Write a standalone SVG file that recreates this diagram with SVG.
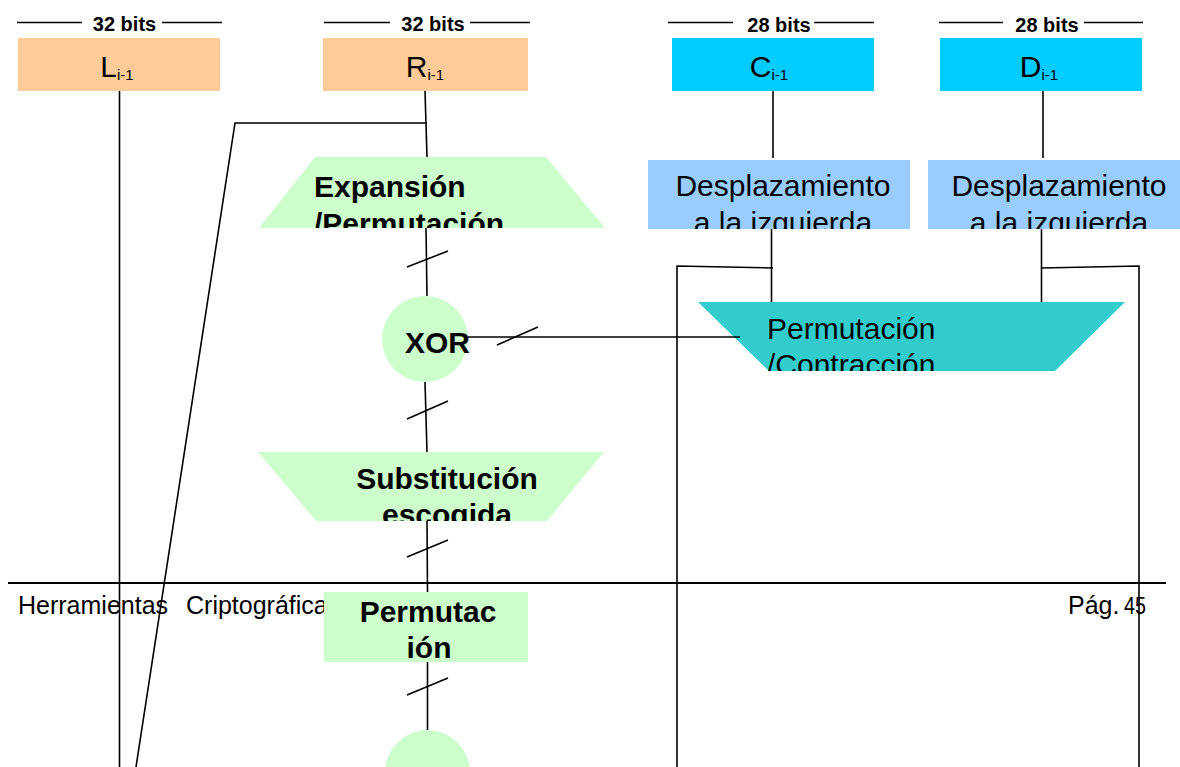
<svg xmlns="http://www.w3.org/2000/svg" width="1180" height="767" viewBox="0 0 1180 767">
  <style>
    .lbl { font-family: "Liberation Sans", Arial, sans-serif; fill: #000; }
    .bits { font-size: 20px; font-weight: bold; text-anchor: middle; }
    .reg { font-size: 30px; }
    .sub { font-size: 15px; }
    .bold { font-size: 30px; font-weight: bold; }
    .ln { stroke: #000; stroke-width: 1.6; fill: none; }
    .rule { stroke: #000; stroke-width: 1.6; }
    .peach { fill: #FFCC99; }
    .cyan { fill: #00CCFF; }
    .sky { fill: #99CCFF; }
    .mint { fill: #CCFFCC; }
    .teal { fill: #33CCCC; }
    .foot { font-family: "Liberation Sans", Arial, sans-serif; font-size: 25px; fill: #000; }
  </style>
  <defs>
    <clipPath id="clipExp"><rect x="250" y="157" width="360" height="71"/></clipPath>
    <clipPath id="clipSub"><rect x="250" y="452" width="360" height="69"/></clipPath>
    <clipPath id="clipDesC"><rect x="648" y="160" width="262" height="69"/></clipPath>
    <clipPath id="clipDesD"><rect x="928" y="160" width="262" height="69"/></clipPath>
    <clipPath id="clipPC"><rect x="690" y="302" width="440" height="69"/></clipPath>
  </defs>

  <rect width="1180" height="767" fill="#fff"/>

  <!-- page footer -->
  <g id="footer">
    <line x1="8" y1="583" x2="1166" y2="583" stroke="#000" stroke-width="2.2"/>
    <text class="foot" x="18" y="614">Herramientas<tspan x="186">Criptográficas</tspan></text>
    <text class="foot" x="1068" y="614">Pág.<tspan x="1124" font-size="24" textLength="22" lengthAdjust="spacingAndGlyphs">45</tspan></text>
  </g>

  <!-- width annotations -->
  <g id="width-labels">
    <line class="rule" x1="17" y1="22.5" x2="82" y2="22.5"/>
    <text class="lbl bits" x="124.5" y="30.5">32 bits</text>
    <line class="rule" x1="162" y1="22.5" x2="222" y2="22.5"/>

    <line class="rule" x1="324" y1="22.5" x2="390" y2="22.5"/>
    <text class="lbl bits" x="433" y="30.5">32 bits</text>
    <line class="rule" x1="470" y1="22.5" x2="530" y2="22.5"/>

    <line class="rule" x1="668" y1="22.5" x2="733" y2="22.5"/>
    <text class="lbl bits" x="779" y="31.5">28 bits</text>
    <line class="rule" x1="814" y1="22.5" x2="874" y2="22.5"/>

    <line class="rule" x1="939" y1="22.5" x2="1003" y2="22.5"/>
    <text class="lbl bits" x="1047" y="31.5">28 bits</text>
    <line class="rule" x1="1084" y1="22.5" x2="1143" y2="22.5"/>
  </g>

  <!-- registers -->
  <g id="node-L">
    <rect class="peach" x="18" y="38" width="202" height="53"/>
    <text class="lbl reg" x="117" y="77" text-anchor="middle">L<tspan class="sub" dy="2.5">i-1</tspan></text>
  </g>
  <g id="node-R">
    <rect class="peach" x="323" y="38" width="205" height="53"/>
    <text class="lbl reg" x="425" y="77" text-anchor="middle">R<tspan class="sub" dy="2.5">i-1</tspan></text>
  </g>
  <g id="node-C">
    <rect class="cyan" x="672" y="38" width="202" height="53"/>
    <text class="lbl reg" x="769" y="77" text-anchor="middle">C<tspan class="sub" dy="2.5">i-1</tspan></text>
  </g>
  <g id="node-D">
    <rect class="cyan" x="940" y="38" width="202" height="53"/>
    <text class="lbl reg" x="1039" y="77" text-anchor="middle">D<tspan class="sub" dy="2.5">i-1</tspan></text>
  </g>

  <!-- round function -->
  <g id="node-expansion">
    <polygon class="mint" points="315,157 546,157 605,228 259,228"/>
    <g clip-path="url(#clipExp)">
      <text class="lbl bold" x="314" y="197">Expansión</text>
      <text class="lbl bold" x="314" y="234">/Permutación</text>
    </g>
  </g>
  <g id="node-xor">
    <circle class="mint" cx="425" cy="339" r="43"/>
    <text class="lbl bold" x="405" y="353">XOR</text>
  </g>
  <g id="node-substitution">
    <polygon class="mint" points="258,452 604,452 547,521 316,521"/>
    <g clip-path="url(#clipSub)">
      <text class="lbl bold" x="447" y="489" text-anchor="middle">Substitución</text>
      <text class="lbl bold" x="447" y="525" text-anchor="middle">escogida</text>
    </g>
  </g>
  <g id="node-permutation">
    <rect class="mint" x="324" y="592" width="204" height="70"/>
    <text class="lbl bold" x="428" y="622" text-anchor="middle">Permutac</text>
    <text class="lbl bold" x="429" y="658" text-anchor="middle">ión</text>
  </g>
  <g id="node-xor2">
    <circle class="mint" cx="427.5" cy="772.5" r="42.5"/>
  </g>

  <!-- key schedule -->
  <g id="node-shift-C">
    <rect class="sky" x="648" y="160" width="262" height="69"/>
    <g clip-path="url(#clipDesC)">
      <text class="lbl reg" x="783" y="196" text-anchor="middle">Desplazamiento</text>
      <text class="lbl reg" x="783" y="233" text-anchor="middle">a la izquierda</text>
    </g>
  </g>
  <g id="node-shift-D">
    <rect class="sky" x="928" y="160" width="262" height="69"/>
    <g clip-path="url(#clipDesD)">
      <text class="lbl reg" x="1059" y="196" text-anchor="middle">Desplazamiento</text>
      <text class="lbl reg" x="1059" y="233" text-anchor="middle">a la izquierda</text>
    </g>
  </g>
  <g id="node-pc2">
    <polygon class="teal" points="698,302 1125,302 1055,371 769,371"/>
    <g clip-path="url(#clipPC)">
      <text class="lbl reg" x="767" y="339">Permutación</text>
      <text class="lbl reg" x="767" y="375">/Contracción</text>
    </g>
  </g>

  <!-- connectors -->
  <g id="connectors" class="ln">
    <!-- L path -->
    <line x1="119.5" y1="91" x2="119.5" y2="767"/>
    <!-- R path -->
    <line x1="425" y1="91" x2="427" y2="157"/>
    <polyline points="427,123 235,123 136,767"/>
    <line x1="426" y1="228" x2="427" y2="296"/>
    <line x1="425" y1="382" x2="427" y2="452"/>
    <line x1="427" y1="521" x2="427.5" y2="592"/>
    <line x1="427.5" y1="662" x2="427.5" y2="730"/>
    <!-- subkey into XOR -->
    <line x1="468" y1="337" x2="740" y2="337"/>
    <!-- C / D paths -->
    <line x1="773" y1="91" x2="773" y2="158"/>
    <line x1="1043" y1="91" x2="1043" y2="158"/>
    <line x1="771.5" y1="229" x2="771.5" y2="302"/>
    <line x1="1041.5" y1="229" x2="1041.5" y2="302"/>
    <polyline points="773,268 677,266 677,767"/>
    <polyline points="1041,268 1139,266 1139,767"/>
    <!-- bus width ticks -->
    <line x1="407" y1="267" x2="448" y2="251"/>
    <line x1="497" y1="345" x2="538" y2="327"/>
    <line x1="407" y1="419" x2="448" y2="401"/>
    <line x1="407" y1="557" x2="448" y2="540"/>
    <line x1="407" y1="695" x2="448" y2="678"/>
  </g>
</svg>
